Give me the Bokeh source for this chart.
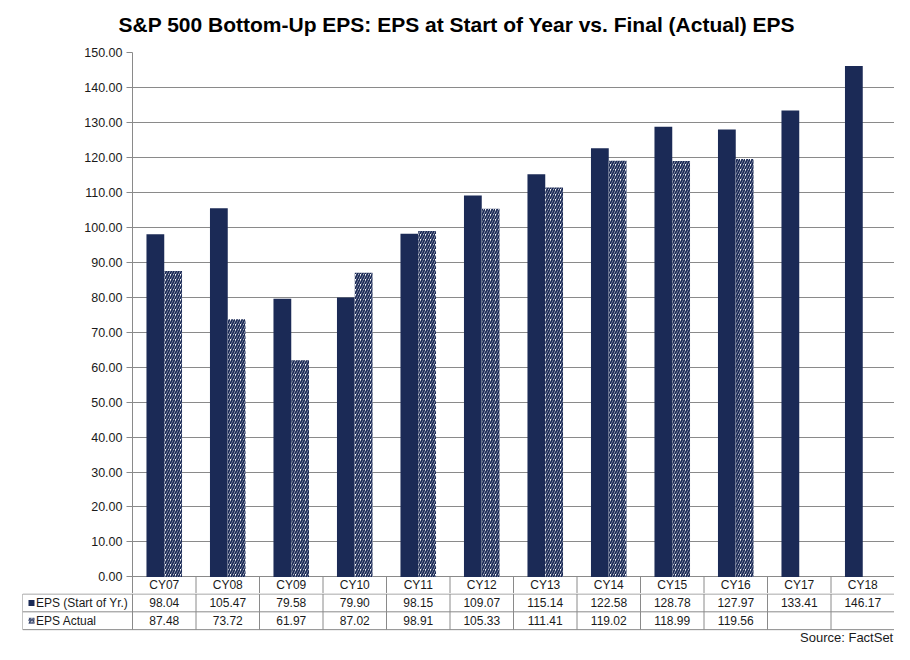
import numpy as np
from bokeh.plotting import figure
from bokeh.layouts import column
from bokeh.models import (ColumnDataSource, Range1d, FixedTicker,
                          NumeralTickFormatter)
from bokeh.transform import dodge
from bokeh.core.properties import value
from bokeh.embed import file_html
from bokeh.resources import INLINE

# ---------------- data ----------------
categories = ["CY07", "CY08", "CY09", "CY10", "CY11", "CY12",
              "CY13", "CY14", "CY15", "CY16", "CY17", "CY18"]
eps_start = [98.04, 105.47, 79.58, 79.90, 98.15, 109.07,
             115.14, 122.58, 128.78, 127.97, 133.41, 146.17]
eps_actual = [87.48, 73.72, 61.97, 87.02, 98.91, 105.33,
              111.41, 119.02, 118.99, 119.56, None, None]
y_ticks = [0, 10, 20, 30, 40, 50, 60, 70, 80, 90, 100, 110, 120, 130, 140, 150]
series_names = ["EPS (Start of Yr.)", "EPS Actual"]
title_text = "S&P 500 Bottom-Up EPS: EPS at Start of Year vs. Final (Actual) EPS"
source_note = "Source: FactSet"

# ---------------- style ----------------
NAVY = "#1b2a56"
GRID = "#8a8a8a"
TXT = "#1a1a1a"
FONT = "Liberation Sans"
W = 894
LEFT_MAIN = 132
LEFT_TABLE = 22
HEAD_H = 44

n = len(categories)
px_per_cat = (W - LEFT_MAIN) / n
legend_left = -(LEFT_MAIN - LEFT_TABLE) / px_per_cat

src = ColumnDataSource(dict(
    xc=[i + 0.5 for i in range(n)],
    cat=categories,
    start=eps_start,
    actual=[np.nan if v is None else v for v in eps_actual],
    start_lbl=[f"{v:.2f}" for v in eps_start],
    actual_lbl=["" if v is None else f"{v:.2f}" for v in eps_actual],
))

def bare(fig):
    fig.outline_line_color = None
    fig.xgrid.visible = False
    fig.ygrid.visible = False
    try:
        fig.frame_align = False
    except Exception:
        pass

# ================= header (title) =================
h = figure(x_range=Range1d(0, W), y_range=Range1d(-HEAD_H, 0),
           width=W, height=HEAD_H, output_backend="svg", toolbar_location=None,
           x_axis_location=None, y_axis_location=None,
           min_border_left=0, min_border_right=0, min_border_top=0,
           min_border_bottom=0)
bare(h)
h.text(x=[118], y=[-23.5], text=[title_text], text_font=value(FONT),
       text_font_size="21px", text_font_style="bold", text_color="#000000",
       text_align="left", text_baseline="middle")

# ================= main chart (with category row) =================
cat_row = -4.75
p = figure(x_range=Range1d(0, n), y_range=Range1d(cat_row, 150),
           width=W, height=593 - HEAD_H, output_backend="svg",
           toolbar_location=None, x_axis_location=None,
           min_border_left=LEFT_MAIN, min_border_right=0,
           min_border_top=52 - HEAD_H, min_border_bottom=0)
p.outline_line_color = None
try:
    p.frame_align = False
except Exception:
    pass

p.yaxis.ticker = FixedTicker(ticks=y_ticks)
p.yaxis.formatter = NumeralTickFormatter(format="0.00")
p.yaxis.axis_line_color = GRID
p.yaxis.major_tick_line_color = GRID
p.yaxis.major_tick_out = 6
p.yaxis.major_tick_in = 0
p.yaxis.minor_tick_line_color = None
p.yaxis.major_label_text_font = FONT
p.yaxis.major_label_text_font_size = "12.5px"
p.yaxis.major_label_text_color = TXT
p.yaxis.major_label_standoff = 4

p.xgrid.visible = False
p.ygrid.ticker = FixedTicker(ticks=y_ticks)
p.ygrid.grid_line_color = GRID
p.ygrid.grid_line_width = 1

p.vbar(x=dodge("xc", -0.14), top="start", width=0.28,
       fill_color=NAVY, line_color=None, source=src)
p.vbar(x=dodge("xc", 0.14), top="actual", width=0.28,
       fill_color="white", line_color=None, hatch_pattern="/",
       hatch_color=NAVY, hatch_scale=5, hatch_weight=1.9, source=src)

edges = list(range(n + 1))
p.segment(x0=edges, y0=[0] * (n + 1), x1=edges, y1=[cat_row] * (n + 1),
          line_color=GRID, line_width=1)
tk = dict(text_font=value(FONT), text_font_size="12px", text_color=TXT,
          text_align="center", text_baseline="middle")
p.text(x="xc", y=cat_row / 2, text="cat", source=src, **tk)

# ================= data table rows + source =================
r0, r1, r2 = 0.0, -18.0, -36.0
t = figure(x_range=Range1d(legend_left, n), y_range=Range1d(-51, 0.5),
           width=W, height=51, output_backend="svg", toolbar_location=None,
           x_axis_location=None, y_axis_location=None,
           min_border_left=LEFT_TABLE, min_border_right=0,
           min_border_top=0, min_border_bottom=0)
bare(t)

t.segment(x0=[legend_left] * 3, y0=[r0, r1, r2], x1=[n] * 3, y1=[r0, r1, r2],
          line_color=GRID, line_width=1)
vx = [legend_left] + edges
t.segment(x0=vx, y0=[r0] * len(vx), x1=vx, y1=[r2] * len(vx),
          line_color=GRID, line_width=1)

t.text(x="xc", y=(r0 + r1) / 2, text="start_lbl", source=src, **tk)
t.text(x="xc", y=(r1 + r2) / 2, text="actual_lbl", source=src, **tk)

ic_w = 6 / px_per_cat
ic_x = legend_left + 9 / px_per_cat
t.rect(x=[ic_x], y=[(r0 + r1) / 2], width=ic_w, height=6,
       fill_color=NAVY, line_color=None)
t.rect(x=[ic_x], y=[(r1 + r2) / 2], width=ic_w, height=6,
       fill_color="white", line_color=None, hatch_pattern="/",
       hatch_color=NAVY, hatch_scale=3.5, hatch_weight=1.2)
t.text(x=[legend_left + 13.5 / px_per_cat] * 2, y=[(r0 + r1) / 2, (r1 + r2) / 2],
       text=series_names, text_font=value(FONT), text_font_size="12px",
       text_color=TXT, text_align="left", text_baseline="middle")

t.text(x=[n - 0.02], y=[-43.5], text=[source_note], text_font=value(FONT),
       text_font_size="13px", text_color=TXT, text_align="right",
       text_baseline="middle")

layout = column(h, p, t, spacing=0)
open("out.html", "w").write(file_html(layout, INLINE))
